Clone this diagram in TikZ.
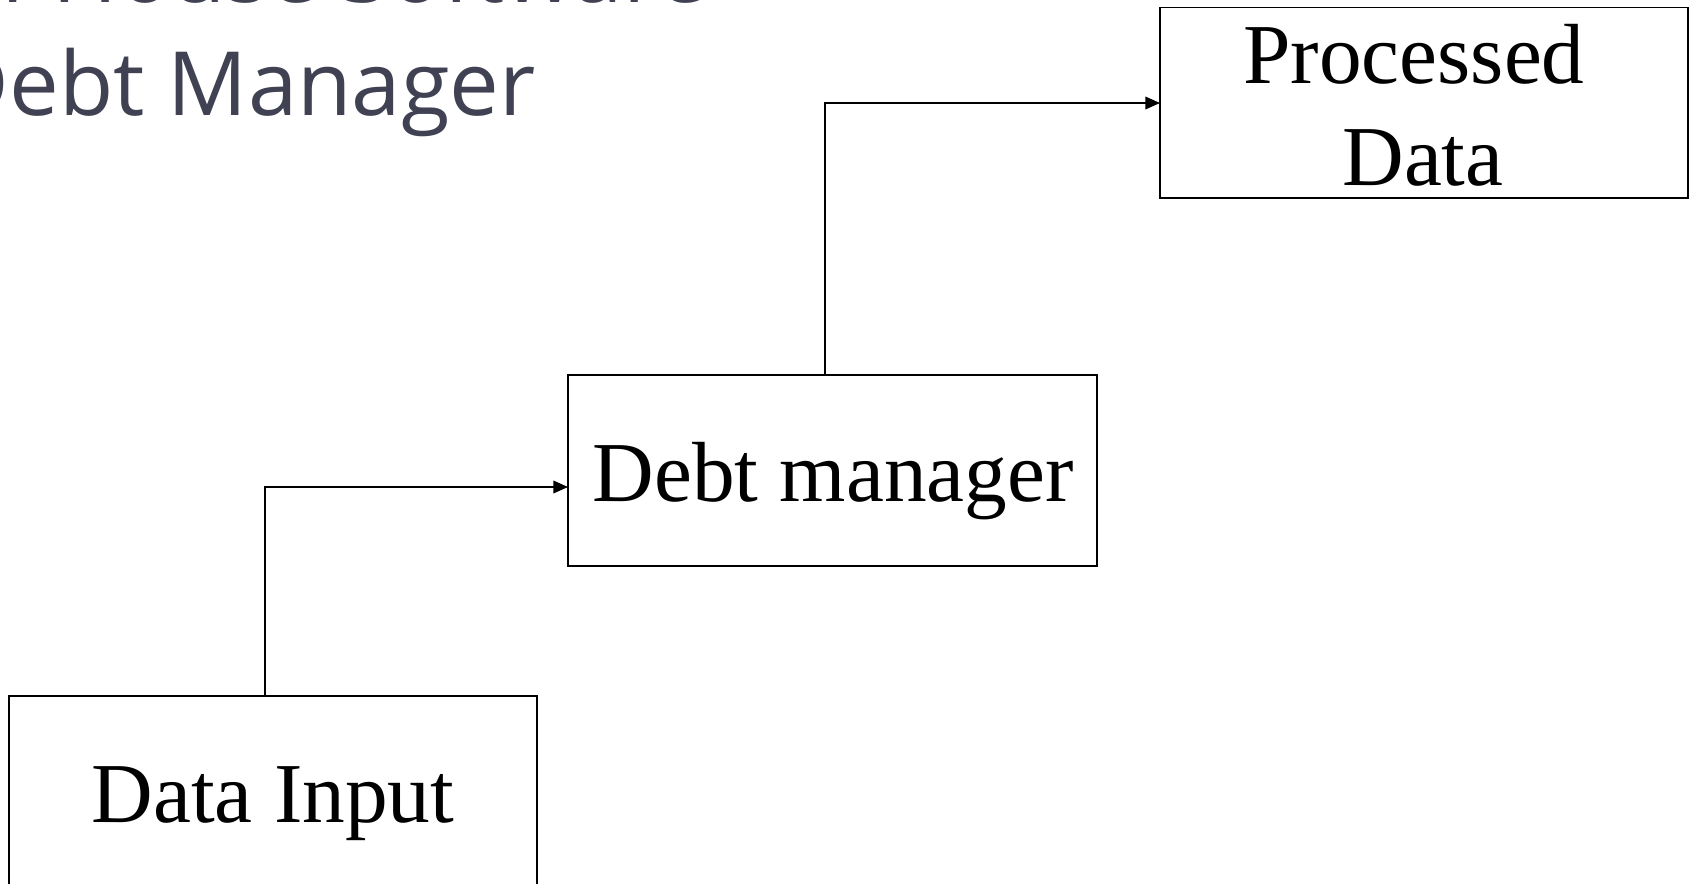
\documentclass[tikz,border=0pt]{standalone}
\usepackage{fontspec}
\setmainfont{Liberation Serif}
\newfontfamily\titlefont{Open Sans}
\usetikzlibrary{arrows.meta}
\definecolor{titlegray}{RGB}{64,65,82}
\tikzset{
  box/.style={draw=black, line width=1.4pt, inner sep=0pt, outer sep=0pt, rectangle},
  lbl/.style={inner sep=0pt, outer sep=0pt, font=\fontsize{64}{76}\selectfont, text=black},
  conn/.style={draw=black, line width=1.1pt, -{Triangle[length=11pt,width=9.5pt]}},
  ttl/.style={inner sep=0pt, outer sep=0pt, anchor=base west, text=titlegray, font=\titlefont\fontsize{66.5}{80}\selectfont}
}
\begin{document}
\begin{tikzpicture}[x=0.75pt,y=-0.75pt]
\useasboundingbox (0,0) rectangle (1691,884);
\clip (0,0) rectangle (1691,884);
% title (partly cut off)
\node[ttl] (t1) at (-55,3) {In-House Software};
\node[ttl] (t2) at (-55,116) {Debt Manager};
% boxes
\node[box, minimum width=396pt, minimum height=142.9pt] (pd) at (1424,102.75) {};
\node[box, minimum width=396.75pt, minimum height=143.25pt] (dm) at (832.5,470.5) {};
\node[box, minimum width=396.3pt, minimum height=147pt] (di) at (272.8,794) {};
% labels
\node[lbl, anchor=base] (pdl1) at (1414,84) {Processed};
\node[lbl, anchor=base] (pdl2) at (1423,185.5) {Data};
\node[lbl, anchor=base] (dml) at (833,501) {Debt manager};
\node[lbl, anchor=base] (dil) at (273,822) {Data Input};
% connectors
\draw[conn] (di.north -| 265,0) |- (dm.west |- 0,487);
\draw[conn] (dm.north -| 825,0) |- (pd.west |- 0,103);
\end{tikzpicture}
\end{document}
